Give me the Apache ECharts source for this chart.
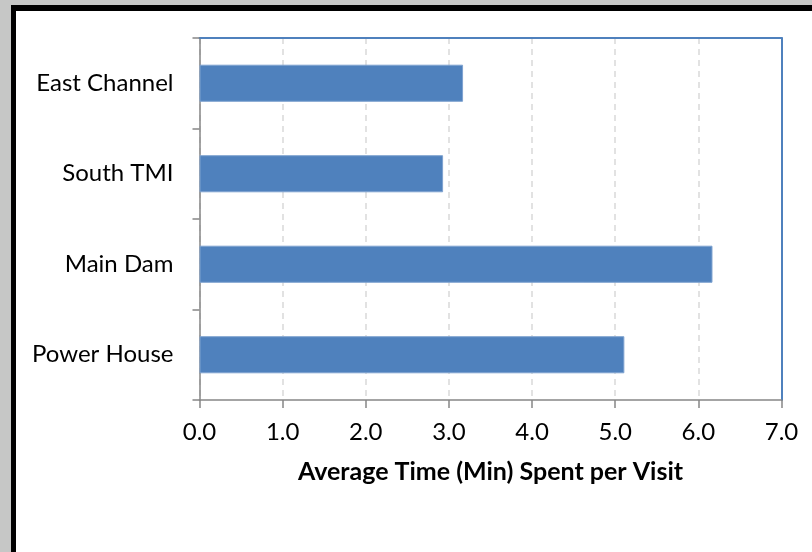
<!DOCTYPE html>
<html>
<head>
<meta charset="utf-8">
<script src="https://cdn.jsdelivr.net/npm/echarts@6/dist/echarts.min.js"></script>
<style>
  html, body { margin: 0; padding: 0; background: #c6c7c6; }
  #frame {
    position: absolute; left: 11px; top: 5px; width: 801px; height: 547px;
    border-left: 5px solid #000; border-top: 6px solid #000; background: #fff;
    box-sizing: border-box; overflow: hidden;
  }
  #chart { position: absolute; left: -16px; top: -11px; width: 812px; height: 552px; }
</style>
</head>
<body>
<div id="frame"><div id="chart"></div></div>
<script>
// Sites and their average visit time in minutes
const sites = ['East Channel', 'South TMI', 'Main Dam', 'Power House'];
const avgMinutes = [3.17, 2.93, 6.17, 5.11];
const xTicks = [0, 1, 2, 3, 4, 5, 6, 7];
const xTitle = 'Average Time (Min) Spent per Visit';

const font = 'Lato, "Open Sans", sans-serif';
const chart = echarts.init(document.getElementById('chart'), null, { renderer: 'canvas' });

chart.setOption({
  animation: false,
  grid: { left: 199.5, right: 30.5, top: 38, bottom: 152, containLabel: false },
  xAxis: [
    {
      type: 'value', min: xTicks[0], max: xTicks[xTicks.length - 1], interval: 1,
      position: 'bottom',
      axisLine: { show: true, onZero: false, lineStyle: { color: '#868686', width: 1.5 } },
      axisTick: { show: true, length: 8, lineStyle: { color: '#868686', width: 1.5 } },
      axisLabel: { color: '#000', fontFamily: font, fontSize: 24, margin: 20,
        formatter: v => v.toFixed(1) },
      splitLine: { show: true, lineStyle: { color: '#d9d9d9', width: 1.5, type: [6, 5] } },
      name: xTitle, nameLocation: 'middle', nameGap: 59,
      nameTextStyle: { color: '#000', fontFamily: font, fontSize: 25, fontWeight: 'bold' }
    },
    {
      type: 'value', min: xTicks[0], max: xTicks[xTicks.length - 1], interval: 1,
      position: 'top',
      axisLine: { show: true, onZero: false, lineStyle: { color: '#4f81bd', width: 2 } },
      axisTick: { show: false }, axisLabel: { show: false }, splitLine: { show: false }
    }
  ],
  yAxis: [
    {
      type: 'category', data: sites, inverse: true, position: 'left',
      axisLine: { show: true, onZero: false, lineStyle: { color: '#868686', width: 1.5 } },
      axisTick: { show: true, length: 7, alignWithLabel: false,
        lineStyle: { color: '#868686', width: 1.5 } },
      axisLabel: { color: '#000', fontFamily: font, fontSize: 24, margin: 26 },
      splitLine: { show: false }
    },
    {
      type: 'category', data: sites, inverse: true, position: 'right',
      axisLine: { show: true, onZero: false, lineStyle: { color: '#4f81bd', width: 2 } },
      axisTick: { show: false }, axisLabel: { show: false }, splitLine: { show: false }
    }
  ],
  series: [
    {
      type: 'bar', xAxisIndex: 0, yAxisIndex: 0, data: avgMinutes, barWidth: '41%',
      itemStyle: { color: '#4f81bd', borderColor: '#7fa3d0', borderWidth: 1 },
      z: 1
    }
  ]
});
</script>
</body>
</html>
